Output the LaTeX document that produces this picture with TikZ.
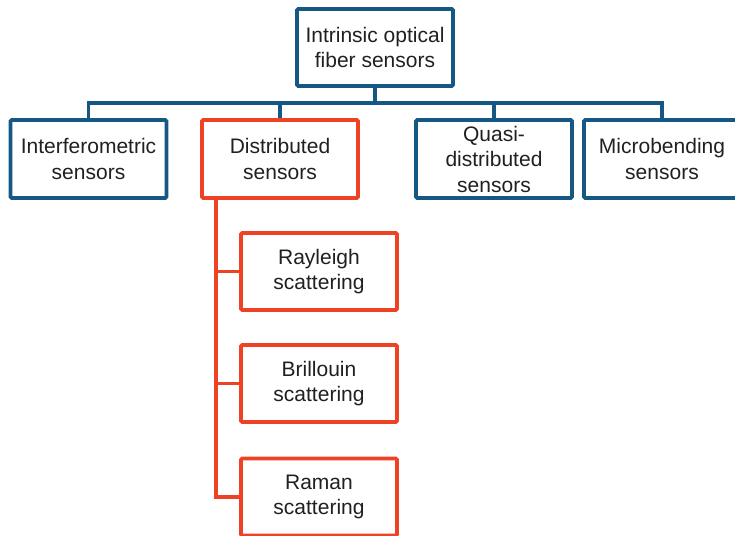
\documentclass[tikz,border=0pt]{standalone}
\usepackage{fontspec}
\setmainfont{Liberation Sans}
\definecolor{boxblue}{RGB}{22,88,132}
\definecolor{boxred}{RGB}{238,66,36}
\definecolor{txt}{RGB}{35,31,32}
\begin{document}
\begin{tikzpicture}[x=1pt,y=-1pt,
  base/.style={draw, line width=3.6pt, fill=white, align=center, text=txt, inner sep=0pt,
    font=\fontsize{21}{25.5}\selectfont, rounded corners=1.2pt},
  bluebox/.style={base, draw=boxblue, minimum width=156pt, minimum height=78pt},
  redbox/.style={base, draw=boxred, minimum width=156pt, minimum height=77pt},
  blueline/.style={draw=boxblue, line width=3.2pt},
  redline/.style={draw=boxred, line width=3.2pt}]
\useasboundingbox (0,0) rectangle (735,535);
\clip (0,0) rectangle (735,535);
\coordinate (bus) at (0,103);
\coordinate (rx) at (216,0);
\node[bluebox, minimum height=77pt] (top) at (375,47.5) {Intrinsic optical\\fiber sensors};
\node[bluebox] (inter) at (88.5,159) {Interferometric\\sensors};
\node[redbox, minimum height=78pt] (dist) at (280,159) {Distributed\\sensors};
\node[bluebox] (quasi) at (494,159) {Quasi-\\distributed\\sensors};
\node[bluebox] (micro) at (662,159) {Microbending\\sensors};
\node[redbox] (ray) at (319,271.5) {Rayleigh\\scattering};
\node[redbox] (bri) at (319,383.5) {Brillouin\\scattering};
\node[redbox] (ram) at (319,497) {Raman\\scattering};
\draw[blueline] (top.south) -- (top.south |- bus);
\draw[blueline] (inter.north) -- (inter.north |- bus) -- (micro.north |- bus) -- (micro.north);
\draw[blueline] (dist.north) -- (dist.north |- bus);
\draw[blueline] (quasi.north) -- (quasi.north |- bus);
\draw[redline] (dist.south -| rx) -- (ram.west -| rx) -- (ram.west);
\draw[redline] (ray.west -| rx) -- (ray.west);
\draw[redline] (bri.west -| rx) -- (bri.west);
\end{tikzpicture}
\end{document}
